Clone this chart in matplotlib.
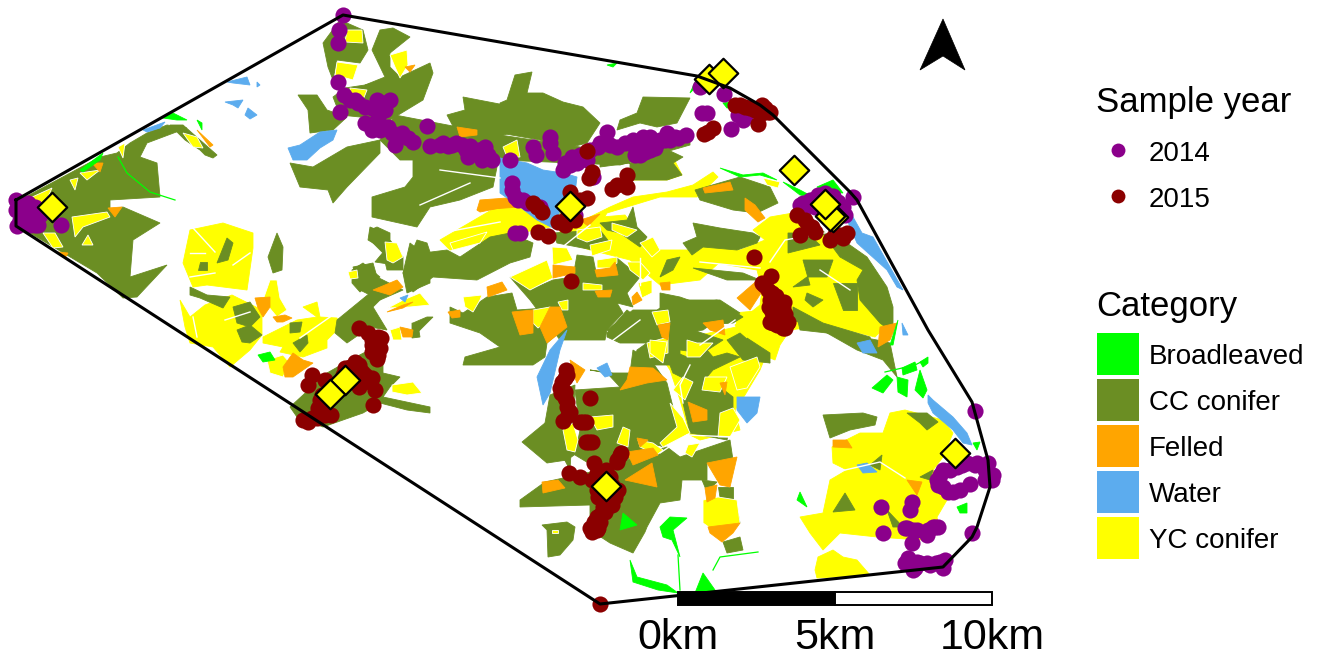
import matplotlib
matplotlib.use('Agg')
import matplotlib.pyplot as plt
from matplotlib.patches import Polygon, Rectangle

plt.rcParams['font.family'] = ['Liberation Sans', 'DejaVu Sans']

# map is digitised in image pixels
hull = [(16,200),(343,15),(697,76),(730,88),(760,105),(773,115),(850,192),(857,200),(928,330),
        (972,402),(988,460),(990,487),(977,527),(972,537),(943,567),(600,604),(16,226),(16,200)]

north_arrow = [(943,19),(965,70),(943,56),(920,70)]

yc_base = [
    [(753,230),(770,217),(793,213),(820,230),(843,243),(860,267),(877,280),(892,320),(875,337),(827,325),(790,330),(780,345),(775,360),(750,350),(735,325),(760,305),(762,290),(757,270),(700,260),(695,245),(740,250),(765,240)],
    [(890,413),(905,410),(943,420),(953,433),(943,457),(933,470),(947,500),(937,517),(940,533),(920,540),(877,537),(840,533),(823,550),(810,533),(800,517),(823,513),(830,480),(847,470),(833,463),(832,447),(860,433),(883,433)],
    [(815,570),(818,557),(833,550),(843,557),(857,560),(870,575),(817,578)],
    [(190,230),(223,223),(253,233),(253,248),(247,290),(207,285),(193,287),(183,263)],
    [(180,300),(190,317),(205,305),(232,295),(262,310),(262,335),(250,350),(230,367),(213,347),(190,343),(185,327)],
    [(263,337),(297,320),(317,317),(303,307),(317,302),(320,317),(337,318),(340,327),(327,340),(327,348),(303,357),(280,352),(283,347),(263,343)],
    [(733,313),(767,310),(780,320),(787,333),(773,343),(767,360),(757,337),(740,333)],
    [(633,163),(673,157),(682,175),(667,180),(630,180)],
    [(577,240),(590,217),(610,207),(633,197),(667,192),(693,185),(713,172),(718,177),(697,197),(660,197),(627,207),(607,213),(590,240)],
    [(560,225),(590,218),(625,215),(640,235),(655,250),(700,250),(720,262),(700,280),(660,285),(630,260),(590,250),(560,240)],
    [(650,340),(700,335),(745,325),(770,345),(760,370),(745,395),(735,410),(740,430),(700,440),(690,435),(680,400),(670,370)],
    [(440,240),(500,205),(560,205),(560,225),(510,235),(450,250)],
]

cc_conifer = [
    [(20,200),(100,157),(117,153),(130,143),(147,133),(167,125),(187,128),(147,143),(140,157),(157,163),(160,197),(110,200),(110,210),(123,207),(160,223),(133,240),(130,277),(167,265),(137,297),(123,298),(97,273),(20,227)],
    [(183,125),(200,140),(217,155),(213,158),(205,155),(200,150),(185,140),(170,125)],
    [(323,43),(340,20),(363,30),(368,50),(360,63),(337,60),(333,80),(328,67)],
    [(380,30),(393,28),(410,37),(390,53),(390,67),(400,77),(430,63),(433,73),(423,100),(390,120),(370,115),(365,85),(385,77),(372,50)],
    [(333,97),(345,88),(365,85),(385,80),(390,120),(340,115)],
    [(298,95),(317,95),(327,110),(347,117),(333,130),(310,133),(308,110)],
    [(347,147),(380,140),(380,153),(347,187),(333,203),(328,190),(300,187),(290,163),(313,167),(330,157)],
    [(395,115),(500,135),(600,150),(690,130),(690,145),(620,165),(500,160),(400,160),(380,140)],
    [(413,157),(460,157),(497,167),(493,187),(460,200),(430,207),(417,227),(372,217),(372,197),(405,187),(413,177)],
    [(447,115),(465,110),(463,97),(515,107),(520,130),(497,137),(505,160),(470,142),(455,130)],
    [(403,273),(410,243),(423,253),(447,250),(460,257),(490,237),(510,233),(533,243),(530,257),(510,263),(477,280),(433,277),(413,292)],
    [(370,227),(385,233),(395,265),(375,262),(385,250),(368,240)],
    [(353,267),(373,263),(377,277),(403,290),(380,300),(360,290)],
    [(515,75),(532,72),(527,93),(543,93),(563,102),(583,107),(600,123),(587,143),(560,150),(540,140),(500,133),(500,103),(507,100)],
    [(643,97),(690,98),(677,123),(657,127),(640,123),(617,130),(620,120),(637,113)],
    [(600,157),(630,163),(668,150),(683,157),(673,163),(682,175),(667,180),(630,180),(630,163),(600,167)],
    [(510,277),(530,290),(553,280),(573,277),(577,255),(593,257),(597,277),(617,258),(640,277),(627,293),(633,307),(617,303),(623,313),(607,330),(605,340),(560,340),(530,300)],
    [(450,307),(463,313),(487,297),(512,293),(517,310),(560,307),(570,323),(547,343),(545,357),(533,365),(463,365),(465,357),(500,347),(480,333),(450,323)],
    [(607,333),(627,310),(640,320),(680,307),(680,365),(633,365),(637,350),(647,343),(620,343),(607,337)],
    [(600,223),(627,220),(633,207),(637,227),(647,237),(640,247),(620,233),(607,230)],
    [(553,233),(600,230),(610,243),(593,250),(557,243)],
    [(693,223),(720,228),(753,233),(760,237),(757,243),(737,250),(703,247),(692,255),(683,243),(697,237)],
    [(695,190),(740,177),(770,187),(778,203),(757,213),(733,210),(700,200)],
    [(788,233),(807,233),(820,245),(800,250),(788,253)],
    [(803,260),(833,260),(827,277),(807,277),(793,287),(810,285)],
    [(820,230),(847,243),(867,257),(887,287),(893,307),(893,333),(880,323),(860,300),(857,280),(863,270),(840,257)],
    [(833,283),(857,283),(857,310),(843,310)],
    [(807,293),(823,300),(813,307),(805,300)],
    [(793,307),(823,323),(870,337),(873,347),(827,333),(793,320)],
    [(660,293),(680,297),(697,303),(717,300),(743,317),(733,323),(703,325),(693,330),(723,340),(703,353),(680,350),(660,340)],
    [(660,277),(667,260),(680,257),(673,270)],
    [(693,268),(743,273),(760,280),(727,280)],
    [(740,333),(763,353),(770,363),(743,360),(727,340)],
    [(227,238),(233,243),(228,260),(217,263)],
    [(200,262),(207,262),(207,270),(198,270)],
    [(277,233),(283,247),(282,270),(273,273),(268,257)],
    [(190,287),(207,295),(230,297),(223,308),(200,298),(190,295)],
    [(233,307),(250,302),(260,317),(250,327),(237,323)],
    [(237,330),(250,325),(262,335),(250,343),(242,342)],
    [(290,323),(302,322),(300,332),(290,333)],
    [(293,343),(307,335),(308,343),(300,352)],
    [(337,320),(370,293),(383,297),(373,307),(387,330),(370,327),(347,343),(335,333)],
    [(290,407),(327,373),(350,360),(383,343),(383,373),(400,377),(390,387),(383,397),(430,407),(430,413),(407,410),(380,403),(363,413),(323,427),(297,417)],
    [(352,270),(363,263),(380,277),(370,283),(360,292),(352,283)],
    [(370,230),(377,227),(390,233),(390,240),(403,257),(403,270),(387,270),(383,253),(370,240)],
    [(403,273),(417,240),(427,243),(430,252),(430,283),(407,293)],
    [(412,323),(418,325),(420,337),(412,338)],
    [(433,317),(417,333),(413,323),(427,317)],
    [(633,350),(653,363),(667,383),(673,407),(680,427),(663,447),(647,440),(630,427),(640,420),(627,410),(620,387),(607,373),(590,370),(613,373),(630,373)],
    [(575,390),(620,387),(640,420),(660,445),(625,460),(600,470),(575,455),(580,430)],
    [(550,395),(575,385),(570,470),(545,423)],
    [(520,500),(545,482),(600,470),(627,460),(667,447),(680,457),(730,440),(733,460),(707,463),(707,480),(682,480),(680,500),(660,503),(647,527),(645,532),(633,553),(610,543),(590,530),(590,505),(520,507)],
    [(522,442),(545,423),(560,440),(577,453),(567,460),(547,463)],
    [(542,525),(567,522),(575,527),(573,540),(560,555),(548,557),(547,530)],
    [(607,330),(633,310),(657,310),(673,300),(720,300),(740,313),(713,323),(703,330),(687,333),(670,333),(657,320),(640,330),(620,340)],
    [(663,347),(687,357),(707,350),(713,357),(727,353),(740,357),(713,370),(707,377),(720,387),(733,397),(733,413),(727,440),(690,433),(683,403),(683,397),(687,380),(673,373)],
    [(747,338),(770,353),(770,363),(753,352)],
    [(797,317),(840,333),(877,340),(890,343),(897,377),(883,360),(857,350),(827,333),(800,330)],
    [(718,487),(733,487),(733,500),(720,500)],
    [(727,510),(738,513),(740,523),(727,522)],
    [(723,542),(740,537),(743,550),(727,553)],
    [(702,480),(717,482),(707,492)],
    [(823,415),(863,413),(877,417),(875,425),(850,430),(830,438)],
    [(907,413),(927,413),(938,422),(927,430),(920,423)],
    [(845,493),(855,510),(833,512)],
    [(870,465),(882,455),(880,470)],
    [(920,477),(933,470),(930,480)],
    [(887,510),(903,527),(893,527)],
]

yc_conifer = [
    [(347,30),(362,30),(363,43),(345,42)],
    [(337,62),(358,65),(353,80),(335,75)],
    [(350,88),(367,90),(363,100),(350,97)],
    [(390,55),(407,50),(408,65),(400,78),(395,67)],
    [(30,198),(52,188),(43,208)],
    [(70,180),(78,178),(75,190)],
    [(80,173),(100,170),(87,180)],
    [(72,217),(107,212),(110,217),(83,227),(75,237)],
    [(82,245),(88,235),(93,245)],
    [(43,233),(55,233),(63,247),(53,248)],
    [(183,133),(197,137),(203,148),(193,147)],
    [(118,147),(125,143),(123,158)],
    [(503,147),(517,140),(520,157),(507,157)],
    [(270,280),(277,280),(280,298),(287,310),(277,317),(263,300)],
    [(267,360),(283,355),(290,363),(283,377),(270,373)],
    [(392,385),(413,382),(422,393),(407,395),(392,392)],
    [(388,308),(403,300),(420,293),(430,305),(410,307)],
    [(390,330),(400,327),(402,340),(393,340)],
    [(348,272),(357,270),(358,278),(350,279)],
    [(385,242),(397,243),(403,257),(393,263),(387,260)],
    [(510,277),(547,260),(553,278),(530,290)],
    [(552,247),(567,248),(573,260),(553,265)],
    [(533,310),(550,307),(552,317),(538,328),(533,323)],
    [(558,302),(568,300),(568,310),(562,310)],
    [(463,297),(482,295),(480,300),(473,312),(465,307)],
    [(450,243),(487,232),(480,243),(453,250)],
    [(577,230),(600,227),(602,237),(587,242),(577,238)],
    [(597,260),(617,257),(617,263),(610,268),(597,268)],
    [(627,262),(640,262),(650,273),(643,280),(630,270)],
    [(640,243),(653,237),(660,250),(652,257)],
    [(612,223),(637,230),(627,237),(612,230)],
    [(583,283),(602,285),(602,290),(583,290)],
    [(638,283),(652,280),(652,293),(642,298)],
    [(652,312),(668,310),(670,322),(657,325)],
    [(647,343),(668,337),(668,353),(650,358)],
    [(683,377),(693,382),(685,400),(673,390)],
    [(638,440),(653,443),(663,450),(657,455),(640,447)],
    [(563,430),(573,423),(578,440),(575,452),(567,450)],
    [(590,417),(613,415),(613,427),(597,430)],
    [(617,443),(623,427),(630,430),(628,447)],
    [(670,403),(683,418),(690,433),(663,447),(660,443),(677,427)],
    [(688,445),(700,443),(692,457),(685,453)],
    [(720,413),(733,408),(740,420),(730,437),(718,437)],
    [(705,377),(727,377),(720,392),(702,390)],
    [(703,500),(718,497),(737,500),(740,523),(717,533),(703,523)],
    [(730,367),(757,357),(760,367),(747,388),(737,390)],
    [(650,340),(667,342),(663,363),(650,353)],
    [(687,340),(697,343),(713,343),(700,357),(687,357)],
    [(552,530),(558,530),(558,533),(552,533)],
    [(763,178),(780,182),(778,188),(767,185)],
    [(590,245),(612,240),(610,250),(592,256)],
]

felled = [
    [(92,163),(103,163),(100,172)],
    [(108,208),(122,207),(115,217)],
    [(58,252),(68,253),(65,258)],
    [(197,130),(213,145),(210,147)],
    [(405,67),(415,65),(410,72)],
    [(457,127),(477,130),(477,135),(460,137)],
    [(477,210),(497,202),(510,203),(500,208),(480,212)],
    [(255,298),(270,297),(270,307),(263,317),(258,308)],
    [(273,317),(285,315),(292,318),(283,322),(277,322)],
    [(283,367),(293,353),(303,360),(313,363),(293,377),(285,377)],
    [(373,290),(397,280),(403,287),(390,295)],
    [(387,312),(403,305),(413,302),(403,308)],
    [(400,327),(413,330),(412,337),(403,337)],
    [(553,265),(575,267),(575,273),(553,278)],
    [(512,312),(533,310),(533,333),(520,335)],
    [(550,307),(560,307),(567,327),(547,343),(540,327)],
    [(487,287),(502,282),(507,290),(488,297)],
    [(448,312),(460,310),(460,317),(452,318)],
    [(595,270),(610,268),(615,262),(618,275),(597,277)],
    [(595,291),(612,290),(610,297),(598,297)],
    [(632,297),(637,292),(642,300),(633,305)],
    [(660,283),(670,282),(670,290),(662,290)],
    [(658,325),(670,323),(668,340),(662,337)],
    [(542,482),(558,480),(565,488),(543,493)],
    [(625,480),(652,463),(657,487)],
    [(627,452),(653,448),(658,455),(633,465)],
    [(630,367),(653,368),(667,380),(647,383),(620,390),(627,380)],
    [(570,360),(585,370),(577,383),(573,373)],
    [(637,438),(648,440),(640,447)],
    [(688,402),(707,410),(707,420),(693,422)],
    [(720,383),(727,382),(725,395)],
    [(707,463),(737,457),(730,487),(720,485)],
    [(705,488),(717,485),(715,498),(707,502)],
    [(708,527),(740,523),(733,533),(722,542),(710,533)],
    [(703,323),(723,320),(725,335),(710,330)],
    [(880,327),(897,323),(890,340),(878,347)],
    [(833,440),(847,440),(852,448),(833,447)],
    [(907,480),(922,482),(917,495)],
    [(703,188),(730,182),(733,190),(705,193)],
    [(745,198),(755,205),(765,218),(758,222),(745,210)],
    [(580,220),(600,214),(588,226)],
    [(480,200),(520,197),(520,207),(477,210)],
    [(737,298),(760,278),(763,290),(750,310)],
]

water = [
    [(500,158),(527,163),(543,170),(563,173),(577,177),(575,193),(560,207),(557,230),(537,220),(520,207),(500,193)],
    [(288,148),(300,145),(320,132),(337,130),(333,140),(320,148),(307,160),(293,160)],
    [(227,82),(247,77),(250,85),(233,83)],
    [(257,82),(260,85),(257,87)],
    [(225,102),(243,100),(238,108),(233,105)],
    [(248,108),(257,115),(250,119),(245,115)],
    [(143,130),(165,122),(160,128),(147,132)],
    [(847,203),(853,217),(862,233),(873,237),(903,290),(897,287),(887,270),(857,243),(847,220)],
    [(567,330),(550,350),(537,377),(543,405),(550,393),(560,350)],
    [(597,368),(607,363),(612,375),(605,377)],
    [(737,397),(760,397),(757,413),(747,423),(737,410)],
    [(857,343),(870,340),(877,353),(863,353)],
    [(902,323),(908,335),(903,335)],
    [(928,395),(933,400),(953,417),(967,433),(972,445),(963,443),(953,430),(933,413),(928,403)],
    [(857,465),(867,463),(877,472),(863,473)],
    [(400,298),(408,295),(405,302)],
]

broadleaved = [
    [(163,118),(173,113),(187,120),(177,120)],
    [(197,120),(202,123),(202,130)],
    [(80,170),(103,153),(100,160),(83,172)],
    [(690,93),(697,78),(695,88)],
    [(723,103),(732,102),(732,108),(727,108)],
    [(720,168),(743,175),(763,173),(777,180),(760,175),(740,177)],
    [(783,182),(800,190),(813,197),(800,195)],
    [(817,187),(833,180),(843,193),(827,192)],
    [(607,65),(617,63),(613,67)],
    [(872,388),(887,375),(893,380),(883,393)],
    [(902,368),(915,362),(917,370),(903,375)],
    [(920,362),(928,357),(928,363),(923,367)],
    [(920,370),(927,390),(923,398),(915,390)],
    [(897,377),(908,380),(907,397),(898,392)],
    [(660,527),(670,517),(687,518),(673,530),(680,557),(672,540),(663,537)],
    [(630,560),(637,577),(667,585),(678,593),(658,590),(633,582)],
    [(695,593),(703,573),(715,590),(715,593)],
    [(957,507),(967,503),(967,513),(960,513)],
    [(973,443),(980,442),(977,450)],
    [(800,492),(807,507),(797,500)],
    [(620,530),(623,513),(637,525)],
    [(258,355),(270,352),(275,360),(263,362)],
    [(898,320),(893,345),(890,345)],
]

broadleaved_lines = [
    [(118,157),(127,173),(150,192),(175,200)],
    [(713,570),(720,557),(758,552)],
    [(678,555),(680,590)],
    [(885,372),(915,365),(925,360)],
]

white_roads = [
    [(660,453),(687,435),(733,437)],
    [(683,403),(680,385),(690,365)],
    [(770,262),(785,240),(830,232)],
    [(600,350),(640,320)],
    [(193,228),(215,252)],
    [(205,253),(190,253)],
    [(190,277),(215,273)],
    [(233,265),(250,253)],
    [(193,317),(197,337)],
    [(225,320),(250,312)],
    [(300,338),(340,310)],
    [(335,380),(375,330)],
    [(430,235),(500,222)],
    [(845,470),(880,462),(905,478)],
    [(700,262),(760,268)],
    [(565,245),(590,225)],
    [(420,205),(470,183)],
    [(440,170),(500,178)],
    [(640,258),(640,285)],
    [(700,345),(735,320)],
    [(820,270),(850,290)],
]

# sample points, by year
x_2014 = [343,339,338,338,344,340,355,365,372,382,390,385,378,370,385,392,402,395,413,427,430,443,452,462,470,478,485,468,482,492,510,
          512,515,523,533,536,550,550,553,563,572,577,587,598,607,607,617,633,643,640,650,657,667,670,678,686,593,515,520,575,540,
          700,724,702,707,743,743,731,803,812,820,838,842,853,16,16,17,30,25,30,35,40,61,22,
          975,988,992,987,977,967,957,943,937,943,953,960,970,881,912,910,883,907,917,912,927,935,972,908,917,927,940,943,913,905,
          350,358,377,385,378,365,372,380,388,400,408,440,448,456,466,475,488,
          565,570,580,590,600,610,625,635,645,650,660,645,655,665,675,635,512,518,528,
          28,35,40,38,30,25,20,
          905,913,928,933,938,927,908,912,920,930,936,945,915,
          940,950,962,948,938,975,985,993,985,
          805,810,818,825,833,843,845,800,815,830,838,738,745]
y_2014 = [15,30,43,82,95,112,100,107,108,103,100,110,118,125,128,133,133,145,142,126,146,143,145,145,146,150,147,157,160,160,160,
          183,197,200,147,155,137,143,153,170,157,163,160,147,132,143,147,140,137,155,150,143,133,140,138,135,177,233,233,215,207,
          87,94,113,113,113,120,129,203,200,197,202,213,197,200,210,226,208,205,215,225,215,225,215,
          411,463,480,477,463,463,467,470,480,487,492,490,484,507,502,510,533,528,530,543,533,527,533,560,562,563,562,568,570,563,
          100,103,100,105,112,123,130,130,127,136,138,145,146,143,150,152,155,
          163,165,155,150,143,145,143,147,143,137,140,152,148,140,137,155,190,200,203,
          203,207,212,225,225,210,220,
          528,530,530,527,527,535,558,565,563,565,563,560,568,
          475,470,465,492,485,465,470,475,480,
          208,200,195,193,196,207,215,205,207,205,215,115,117]
x_2015 = [587,589,612,617,627,627,533,542,570,587,580,562,567,538,548,704,713,740,750,762,768,758,797,812,800,834,847,
          754,571,771,762,772,780,769,783,773,788,783,777,787,
          359,378,380,377,312,308,325,350,359,359,370,375,373,320,320,303,317,331,
          566,565,560,565,567,568,563,590,583,589,621,617,569,580,594,597,610,597,615,603,597,590,598,600,
          764,768,776,770,778,784,772,780,785,775,770,780,785,
          345,343,355,362,372,381,375,372,372,378,368,378,365,372,
          318,325,322,312,325,308,
          567,562,565,561,567,570,580,586,586,592,620,617,
          606,612,592,600,598,602,608,618,612,600,605,594,600,597,592,
          570,558,565,575,537,592,708,735,745,755,765,770,762,805,808,815,830,840,843]
y_2015 = [151,178,189,185,175,187,203,212,192,198,200,222,217,232,236,134,128,105,108,105,112,124,215,227,235,236,233,
          257,281,276,283,293,302,307,308,323,322,328,325,323,
          328,337,348,359,375,385,380,367,365,387,382,390,405,400,413,420,418,415,
          370,378,388,398,407,415,421,398,422,442,453,462,473,477,463,473,477,490,497,507,517,528,528,604,
          285,290,296,300,305,302,312,312,314,318,322,323,328,
          368,375,362,372,340,338,342,345,352,345,333,355,375,378,
          408,405,395,418,415,422,
          375,382,392,393,402,412,422,422,442,442,455,460,
          470,485,480,478,497,500,497,490,505,515,512,522,522,530,532,
          205,222,225,220,207,172,132,105,107,110,108,112,113,220,225,232,240,235,238]

x_diamond = [52,709,723,570,794,833,830,825,955,606,345,330]
y_diamond = [207,79,73,206,170,217,216,204,453,486,380,394]

cat_labels = ['Broadleaved','CC conifer','Felled','Water','YC conifer']
cat_colors = ['#00FF00','#6B8E23','#FFA500','#5CACEE','#FFFF00']
year_labels = ['2014','2015']
year_colors = ['#8B008B','#8B0000']
scale_labels = ['0km','5km','10km']
scale_km = [0,5,10]

fig = plt.figure(figsize=(13.31,6.57),dpi=100)
ax = fig.add_axes([0,0,1,1])
ax.set_xlim(0,1331)
ax.set_ylim(657,0)
ax.axis('off')

def draw_polys(polys,col,z,edge=None):
    for p in polys:
        ax.add_patch(Polygon(p,closed=True,facecolor=col,edgecolor=edge if edge else col,lw=0.6,zorder=z))

draw_polys(yc_base,cat_colors[4],1)
draw_polys(cc_conifer,cat_colors[1],2)
draw_polys(yc_conifer,cat_colors[4],3,'white')
draw_polys(felled,cat_colors[2],4)
draw_polys(water,cat_colors[3],5)
draw_polys(broadleaved,cat_colors[0],6)
for l in broadleaved_lines:
    ax.plot([p[0] for p in l],[p[1] for p in l],color=cat_colors[0],lw=0.9,zorder=6)
for l in white_roads:
    ax.plot([p[0] for p in l],[p[1] for p in l],color='white',lw=1.0,zorder=6)

ax.scatter(x_2014,y_2014,s=135,color=year_colors[0],lw=0,zorder=7)
ax.scatter(x_2015,y_2015,s=135,color=year_colors[1],lw=0,zorder=8)
ax.scatter(x_diamond,y_diamond,s=225,marker='D',color=cat_colors[4],edgecolor='black',lw=1.6,zorder=9)
ax.plot([p[0] for p in hull],[p[1] for p in hull],color='black',lw=2.2,zorder=10,solid_joinstyle='round')

ax.add_patch(Polygon(north_arrow,closed=True,facecolor='black',edgecolor='black',lw=0.5,zorder=10))

# scale bar
km_px = (992-678)/10
ax.add_patch(Rectangle((678,592),km_px*5,13,facecolor='black',edgecolor='black',lw=1.4,zorder=11))
ax.add_patch(Rectangle((678+km_px*5,592),km_px*5,13,facecolor='white',edgecolor='black',lw=1.4,zorder=11))
clip = Rectangle((600,600),440,57,transform=ax.transData)
for km,lab in zip(scale_km,scale_labels):
    t = ax.text(678+km*km_px,649,lab,fontsize=31,ha='center',va='baseline',zorder=11)
    t.set_clip_path(clip)

# legends
ax.text(1096,112,'Sample year',fontsize=25,va='baseline')
for lab,col,y in zip(year_labels,year_colors,[150,196]):
    ax.scatter([1118],[y],s=100,color=col,lw=0)
    ax.text(1149,y+11,lab,fontsize=20,va='baseline')
ax.text(1096,316,'Category',fontsize=25,va='baseline')
for lab,col,y in zip(cat_labels,cat_colors,[333,379,425,471,517]):
    ax.add_patch(Rectangle((1097,y),42,42,facecolor=col,edgecolor='none'))
    ax.text(1149,y+31,lab,fontsize=20,va='baseline')

fig.savefig('out.png',dpi=100)
